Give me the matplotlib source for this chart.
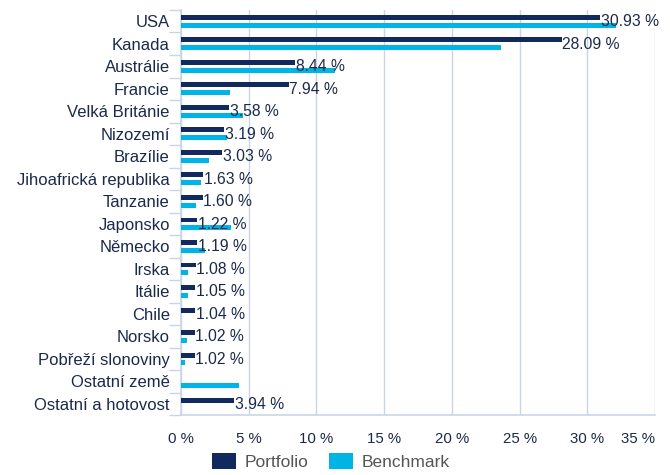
import numpy as np
import matplotlib
matplotlib.use("Agg")
from matplotlib import pyplot as plt

countries = ["USA", "Kanada", "Austrálie", "Francie", "Velká Británie", "Nizozemí",
             "Brazílie", "Jihoafrická republika", "Tanzanie", "Japonsko", "Německo",
             "Irska", "Itálie", "Chile", "Norsko", "Pobřeží slonoviny",
             "Ostatní země", "Ostatní a hotovost"]
portfolio = [30.93, 28.09, 8.44, 7.94, 3.58, 3.19, 3.03, 1.63, 1.60, 1.22, 1.19,
             1.08, 1.05, 1.04, 1.02, 1.02, 0.0, 3.94]
benchmark = [32.1, 23.6, 11.35, 3.65, 4.6, 3.4, 2.05, 1.5, 1.15, 3.7, 1.8,
             0.55, 0.55, 0.0, 0.42, 0.3, 4.3, 0.0]
xticks = [0, 5, 10, 15, 20, 25, 30, 35]

navy = "#12295e"
cyan = "#00b4e6"
grid_c = "#c9d5e6"
text_c = "#1b2a4a"

plt.rcParams["font.family"] = ["Liberation Sans", "DejaVu Sans"]

fig = plt.figure(figsize=(6.7, 4.75), dpi=100)
ax = fig.add_axes([0.270, 0.126, 0.708, 0.853])

y = np.arange(len(countries))
h = 0.22
ax.barh(y - 0.17, portfolio, height=h, color=navy, label="Portfolio", zorder=3)
ax.barh(y + 0.17, benchmark, height=h, color=cyan, label="Benchmark", zorder=3)

# value labels only for portfolio
for yi, v in zip(y, portfolio):
    if v > 0:
        ax.text(v + 0.05, yi + 0.02, f"{v:.2f} %", va="center", ha="left",
                fontsize=11.3, color=text_c, zorder=4)

ax.set_ylim(len(countries) - 0.5, -0.5)
ax.set_xlim(0, 35)
ax.set_yticks(y)
ax.set_yticklabels(countries, fontsize=12, color=text_c)
ax.set_yticks(np.arange(len(countries) + 1) - 0.5, minor=True)
ax.tick_params(axis="y", which="major", length=0, pad=8)
ax.tick_params(axis="y", which="minor", length=9, color=grid_c, width=1)

ax.set_xticks(xticks)
ax.set_xticklabels([f"{t} %" for t in xticks], fontsize=10.8, color=text_c)
ax.tick_params(axis="x", length=0, pad=12)
ax.get_xticklabels()[-1].set_horizontalalignment("right")

ax.grid(axis="x", color=grid_c, linewidth=1, zorder=0)
for s in ["top", "right"]:
    ax.spines[s].set_visible(False)
for s in ["left", "bottom"]:
    ax.spines[s].set_color(grid_c)
    ax.spines[s].set_linewidth(1.2)

leg = fig.legend(loc="lower center", bbox_to_anchor=(0.494, -0.022), ncol=2,
                 frameon=False, fontsize=12.5, handlelength=1.35, handleheight=1.1,
                 columnspacing=1.2, handletextpad=0.5)
for t in leg.get_texts():
    t.set_color("#555555")

fig.savefig("out.png", dpi=100)
